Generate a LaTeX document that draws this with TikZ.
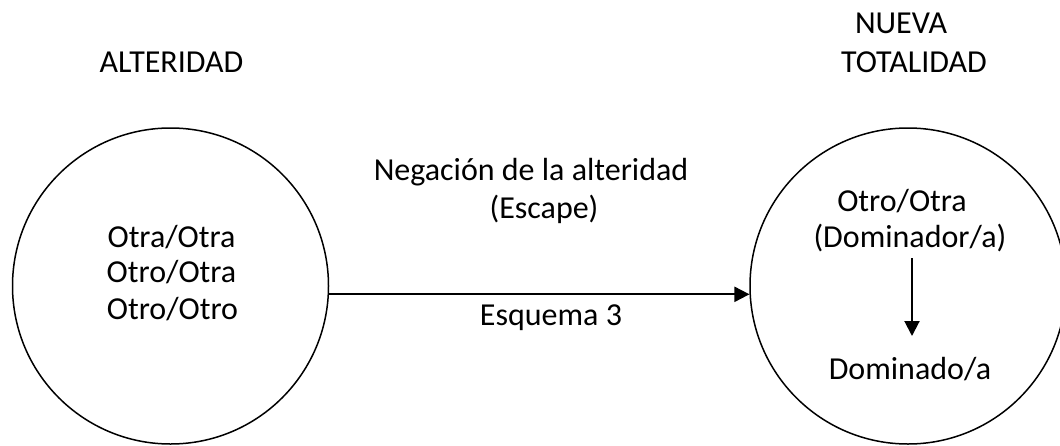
\documentclass[tikz,border=0pt]{standalone}
\usepackage{fontspec}
\setmainfont{Carlito}
\usetikzlibrary{arrows.meta}
\begin{document}
\begin{tikzpicture}[x=1pt,y=-1pt,
  lbl/.style={inner sep=0pt,anchor=base,font=\fontsize{32}{38}\selectfont},
  ring/.style={circle,draw,line width=1.5pt,minimum size=316pt,inner sep=0pt},
  conn/.style={line width=2pt,-{Triangle[length=15pt,width=15pt]}}]
\useasboundingbox (0,0) rectangle (1060,445);
\fill[white] (0,0) rectangle (1060,445);
\node[ring] (L) at (170.5,286) {};
\node[ring] (R) at (908,286) {};
\node[lbl] (alt) at (171.5,72) {ALTERIDAD};
\node[lbl] (nueva) at (901,33) {NUEVA};
\node[lbl] (tot) at (914,72) {TOTALIDAD};
\node[lbl] (neg) at (531,180) {Negación de la alteridad};
\node[lbl] (esc) at (544,218) {(Escape)};
\node[lbl] (esq) at (551,325) {Esquema 3};
\node[lbl] (l1) at (171.5,247) {Otra/Otra};
\node[lbl] (l2) at (171.5,282) {Otro/Otra};
\node[lbl] (l3) at (172.5,319) {Otro/Otro};
\node[lbl] (r1) at (902,211) {Otro/Otra};
\node[lbl] (r2) at (910,247) {(Dominador/a)};
\node[lbl] (r3) at (910,379) {Dominado/a};
\coordinate (vs) at (912,258);
\coordinate (ve) at (912,336);
\draw[conn] (L.-3) -- (R.183);
\draw[conn] (vs) -- (ve);
\end{tikzpicture}
\end{document}
